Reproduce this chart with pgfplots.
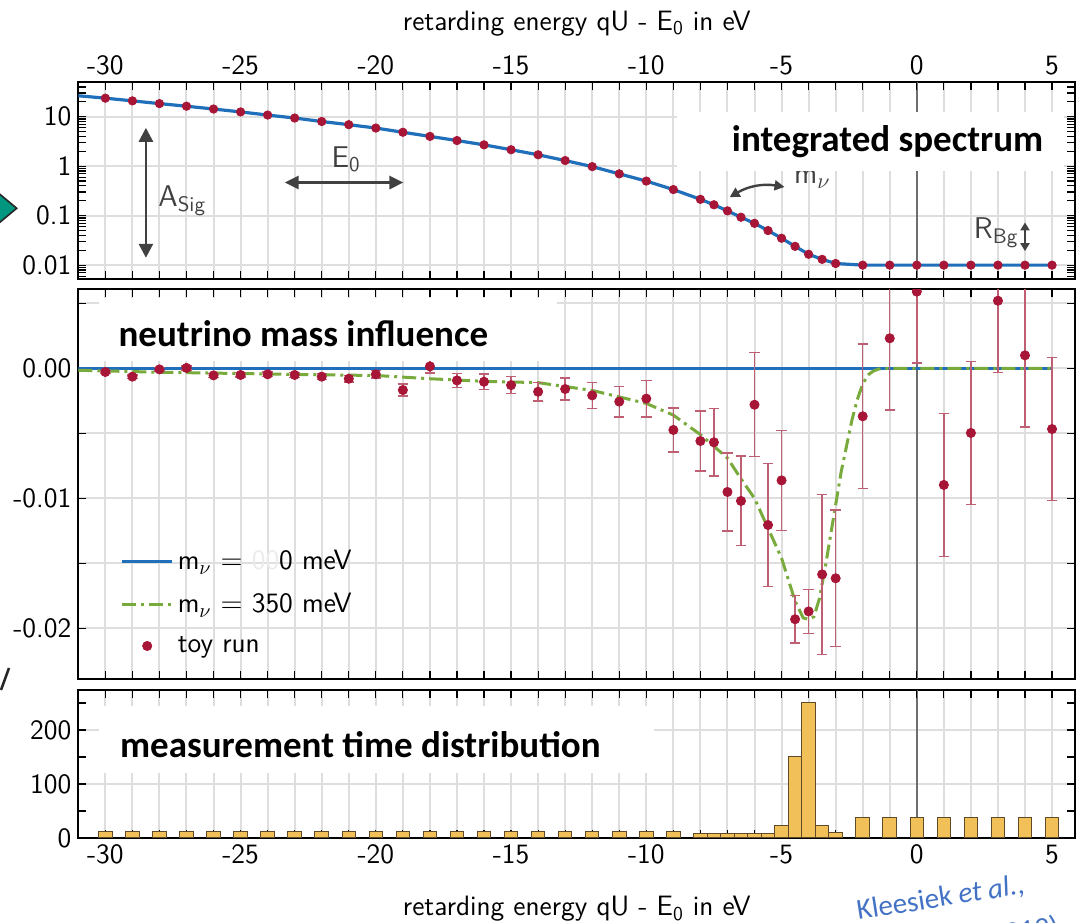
\documentclass[border=0pt]{standalone}
\usepackage{fontspec}
\usepackage{pgfplots}
\pgfplotsset{compat=1.18}
\usetikzlibrary{arrows.meta}
\renewcommand{\familydefault}{\sfdefault}
\newfontfamily\calibri{Carlito}
\definecolor{specblue}{RGB}{31,111,186}
\definecolor{dotred}{RGB}{168,22,55}
\definecolor{errc}{RGB}{190,95,115}
\definecolor{greenc}{RGB}{120,170,60}
\definecolor{annot}{RGB}{65,65,65}
\definecolor{gridc}{RGB}{222,222,222}
\definecolor{zeroc}{RGB}{110,110,110}
\definecolor{barc}{RGB}{242,192,88}
\definecolor{bardraw}{RGB}{95,75,40}
\definecolor{klblue}{RGB}{68,114,196}
\definecolor{tealc}{RGB}{0,150,128}
\tikzset{
 boxtext/.style={font=\calibri\bfseries\fontsize{18.5}{22}\selectfont},
 anntext/.style={font=\fontsize{15}{17}\selectfont, text=annot},
}
\pgfplotsset{
 kat/.style={
  scale only axis, width=498.5pt, xmin=-31, xmax=5.86,
  xtick={-30,-25,...,5}, xticklabels={-30,-25,-20,-15,-10,-5,0,5},
  minor xtick={-31,-30,...,5},
  xmajorgrids, xminorgrids,
  major grid style={gridc, line width=1pt},
  minor grid style={gridc, line width=1pt},
  tick align=inside,
  major tick length=4pt, minor tick length=4pt,
  every tick/.style={black, line width=0.6pt},
  axis line style={black, line width=1pt},
  tick label style={font=\fontsize{14}{16}\selectfont},
  label style={font=\fontsize{14}{16}\selectfont},
  extra x ticks={0}, extra x tick labels={},
  extra x tick style={grid=major, major grid style={zeroc, line width=1pt}},
  scaled y ticks=false,
  clip marker paths=true,
 },
 legend image code/.code={\draw[mark repeat=2,mark phase=2,#1] plot coordinates {(0pt,0pt) (12.5pt,0pt) (25pt,0pt)};},
}
\begin{document}
\begin{tikzpicture}
\useasboundingbox (0,0) rectangle (538.5pt,461pt);
% decorations from the slide
\filldraw[fill=tealc, draw=black!85, line width=0.8pt] (-2pt,{(922-191)*0.5pt}) -- ({16.7*0.5pt},{(922-208.3)*0.5pt}) -- (-2pt,{(922-225.5)*0.5pt}) -- cycle;
\draw[black!85, line width=1.3pt] ({1*0.5pt},{(922-690)*0.5pt}) -- ({9*0.5pt},{(922-668)*0.5pt});

% ---------------- top panel: integrated spectrum
\begin{axis}[kat, at={(39.15pt,321.5pt)}, anchor=south west, height=98.35pt,
  ymode=log, ymin=0.00525, ymax=49.6,
  ytick={0.01,0.1,1,10}, yticklabels={0.01,0.1,1,10},
  minor ytick={0.006,0.007,0.008,0.009,0.02,0.03,0.04,0.05,0.06,0.07,0.08,0.09,0.2,0.3,0.4,0.5,0.6,0.7,0.8,0.9,2,3,4,5,6,7,8,9,20,30,40},
  ymajorgrids, xticklabel pos=upper,
  xlabel={retarding energy qU - E\textsubscript{0} in eV},
  xlabel style={yshift=3pt}]
\addplot[specblue, line width=1.6pt] table {
x y
-31 26.5
-30 23.7
-29 20.9
-28 18.4
-27 16.3
-26 14.3
-25 12.5
-24 10.8
-23 9.4
-22 8.0
-21 6.9
-20 5.9
-19 4.85
-18 4.0
-17 3.3
-16 2.7
-15 2.15
-14 1.7
-13 1.3
-12 0.98
-11 0.70
-10 0.50
-9 0.337
-8 0.214
-7.5 0.166
-7 0.125
-6.5 0.093
-6 0.070
-5.5 0.050
-5 0.035
-4.5 0.024
-4 0.0166
-3.5 0.0131
-3 0.0108
-2 0.0100
-1 0.0100
0 0.0100
1 0.0100
2 0.0100
3 0.0100
4 0.0100
5 0.0100
};
\addplot[only marks, mark=*, mark size=2.1pt, mark options={fill=dotred, draw=dotred}] table {
x y
-30 23.7
-29 20.9
-28 18.4
-27 16.3
-26 14.3
-25 12.5
-24 10.8
-23 9.4
-22 8.0
-21 6.9
-20 5.9
-19 4.85
-18 4.0
-17 3.3
-16 2.7
-15 2.15
-14 1.7
-13 1.3
-12 0.98
-11 0.70
-10 0.50
-9 0.337
-8 0.214
-7.5 0.166
-7 0.125
-6.5 0.093
-6 0.070
-5.5 0.050
-5 0.035
-4.5 0.024
-4 0.0166
-3.5 0.0131
-3 0.0108
-2 0.0100
-1 0.0100
0 0.0100
1 0.0100
2 0.0100
3 0.0100
4 0.0100
5 0.0100
};
\draw[annot, line width=1.4pt, {Triangle[width=7pt,length=7pt]}-{Triangle[width=7pt,length=7pt]}] (axis cs:-28.5,5.96) -- (axis cs:-28.5,0.0141);
\node[anntext, anchor=west] at (axis cs:-28.3,0.2) {A\textsubscript{Sig}};
\draw[annot, line width=1.4pt, {Triangle[width=6.5pt,length=7pt]}-{Triangle[width=6.5pt,length=7pt]}] (axis cs:-23.37,0.468) -- (axis cs:-18.98,0.468);
\node[anntext] at (axis cs:-21.1,1.36) {E\textsubscript{0}};
\node[anntext, anchor=west] at (axis cs:-4.8,0.55) {m$_\nu$};
\draw[annot, line width=1.2pt, {Triangle[width=5pt,length=5pt]}-{Triangle[width=5pt,length=5pt]}] (axis cs:-6.92,0.236) to[bend left=20] (axis cs:-4.89,0.38);
\node[anntext, anchor=west] at (axis cs:1.85,0.045) {R\textsubscript{Bg}};
\draw[annot, line width=1.1pt, {Triangle[width=4.5pt,length=4pt]}-{Triangle[width=4.5pt,length=4pt]}] (axis cs:4,0.073) -- (axis cs:4,0.0192);
\fill[white] (axis cs:-8.88,12.2) rectangle (axis cs:5.43,0.79);
\node[boxtext] at (axis cs:-1.08,3.13) {integrated spectrum};
\end{axis}

% ---------------- middle panel: neutrino mass influence
\begin{axis}[kat, at={(39.15pt,121.35pt)}, anchor=south west, height=195pt,
  ymin=-0.02392, ymax=0.00608,
  ytick={-0.02,-0.01,0}, yticklabels={-0.02,-0.01,0.00},
  minor ytick={-0.015,-0.005,0.005},
  ymajorgrids, yminorgrids, xticklabels={},
  legend style={at={(0.036,0.352)}, anchor=north west, draw=none, fill=none,
    font=\fontsize{14}{16}\selectfont, row sep=6.3pt, legend cell align=left},
  ]
\addplot[specblue, line width=1.6pt] coordinates {(-31,0) (5,0)};
\addlegendentry{m$_\nu$ $=$ {\color{black!8}00}0 meV}
\addplot[greenc, line width=1.5pt, dash pattern=on 7pt off 2.5pt on 1.5pt off 2.5pt] table {
x y
-31 -0.00015
-28 -0.0003
-25 -0.0004
-22 -0.0005
-20 -0.00055
-18 -0.0008
-16 -0.001
-14 -0.0011
-13 -0.0014
-12 -0.0017
-11 -0.0022
-10 -0.0027
-9 -0.0036
-8 -0.0051
-7.5 -0.006
-7 -0.0069
-6.5 -0.0085
-6 -0.0100
-5.5 -0.0123
-5 -0.0146
-4.5 -0.0179
-4.2 -0.0192
-4.0 -0.0193
-3.8 -0.0191
-3.6 -0.0177
-3.4 -0.0155
-3.2 -0.0130
-3.0 -0.0105
-2.8 -0.0080
-2.6 -0.0060
-2.4 -0.0040
-2.2 -0.0024
-2.0 -0.0012
-1.8 -0.0005
-1.6 -0.0002
-1.4 -0.00005
-1.2 0
5 0
};
\addlegendentry{m$_\nu$ $=$ 350 meV}
\addplot[only marks, mark=*, mark size=2.3pt, mark options={fill=dotred, draw=dotred},
  error bars/.cd, y dir=both, y explicit,
  error bar style={errc, line width=0.7pt},
  error mark options={rotate=90, errc, mark size=2.6pt, line width=0.7pt}]
  table[x=x, y=y, y error=e] {
x y e
-30 -0.00028 0.00012
-29 -0.00064 0.00013
-28 -0.00008 0.00014
-27 0.00003 0.00015
-26 -0.00054 0.00016
-25 -0.00051 0.00017
-24 -0.00046 0.00018
-23 -0.00051 0.0002
-22 -0.00064 0.00022
-21 -0.0008 0.00025
-20 -0.00046 0.00028
-19 -0.00167 0.00045
-18 0.00015 0.0005
-17 -0.00093 0.00055
-16 -0.00103 0.0006
-15 -0.00129 0.00065
-14 -0.0018 0.0007
-13 -0.00159 0.00086
-12 -0.00208 0.001
-11 -0.00256 0.00118
-10 -0.00233 0.0014
-9 -0.00474 0.0017
-8 -0.00559 0.0023
-7.5 -0.00569 0.0026
-7 -0.00951 0.003
-6.5 -0.0102 0.00345
-6 -0.0028 0.004
-5.5 -0.01205 0.00475
-5 -0.00862 0.00386
-4.5 -0.0193 0.00183
-4 -0.0187 0.00168
-3.5 -0.01585 0.00614
-3 -0.01615 0.00524
-2 -0.00369 0.00555
-1 0.00231 0.0055
0 0.0059 0.0055
1 -0.00897 0.0055
2 -0.00497 0.0055
3 0.0052 0.0055
4 0.0010 0.0055
5 -0.00467 0.0055
};
\addlegendentry{toy run}
\fill[white] (axis cs:-30.22,0.0054) rectangle (axis cs:-13.32,0.0006);
\node[boxtext] at (axis cs:-22.68,0.00264) {neutrino mass influence};
\end{axis}

% ---------------- bottom panel: measurement time distribution
\begin{axis}[kat, at={(39.15pt,42pt)}, anchor=south west, height=74pt,
  ymin=0, ymax=274, ytick={0,100,200}, yticklabels={0,100,200},
  minor ytick={50,150,250}, ymajorgrids,
  xlabel={retarding energy qU - E\textsubscript{0} in eV},
  xlabel style={yshift=-9pt}]
\addplot[ybar, bar width=0.5, fill=barc, draw=bardraw, line width=0.5pt] table {
x y
-30 12
-29 12
-28 12
-27 12
-26 12
-25 12
-24 12
-23 12
-22 12
-21 12
-20 12
-19 12
-18 12
-17 12
-16 12
-15 12
-14 12
-13 12
-12 12
-11 12
-10 12
-9 12
-8 9
-7.5 9
-7 9
-6.5 9
-6 9
-5.5 9
-5 23
-4.5 151
-4 251
-3.5 23
-3 10
-2 38
-1 38
0 38
1 38
2 38
3 38
4 38
5 38
};
\fill[white] (axis cs:-30.22,244) rectangle (axis cs:-9.70,120);
\node[boxtext] at (axis cs:-20.57,172) {measurement time distribution};
\end{axis}

% citation
\begin{scope}[shift={({858*0.5pt},{(922-920)*0.5pt})}, rotate=9]
\node[transform shape, anchor=base west, inner sep=0pt, text=klblue, font=\calibri\fontsize{14.5}{17}\selectfont] at (0,0) {Kleesiek \textit{et al.},};
\node[transform shape, anchor=base west, inner sep=0pt, text=klblue, font=\calibri\fontsize{14.5}{17}\selectfont] at (60pt,-23pt) {(2019)};
\end{scope}
\end{tikzpicture}
\end{document}
